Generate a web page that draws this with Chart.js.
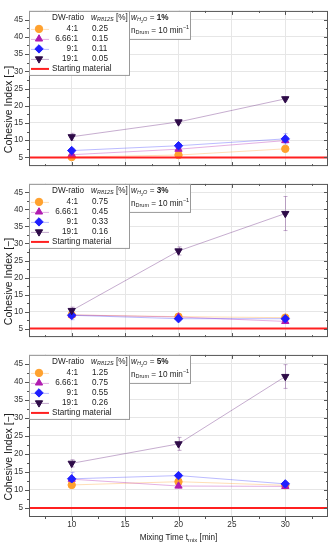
<!DOCTYPE html>
<html>
<head>
<meta charset="utf-8">
<script src="https://cdn.jsdelivr.net/npm/chart.js@4.4.1/dist/chart.umd.min.js"></script>
<style>
  html, body { margin: 0; padding: 0; background: #fff; }
  #wrap { position: relative; width: 334px; height: 550px; overflow: hidden; }
  .panel { position: absolute; left: 0; width: 334px; }
</style>
</head>
<body>
<div id="wrap">
  <div class="panel" style="top:0;height:177px"><canvas id="c1"></canvas></div>
  <div class="panel" style="top:173px;height:175px"><canvas id="c2"></canvas></div>
  <div class="panel" style="top:344px;height:206px"><canvas id="c3"></canvas></div>
</div>
<script>
const FONT = '"Liberation Sans", Arial, sans-serif';

// axes
const mixTimes = [10, 20, 30];
const xTicks = [10, 15, 20, 25, 30];
const yTicks = [5, 10, 15, 20, 25, 30, 35, 40, 45];
const xMin = 6, xMax = 34, yMin = 2.5, yMax = 47.5;

// legend content
const ratios = ['4:1', '6.66:1', '9:1', '19:1'];
const waterContent = ['1%', '3%', '5%'];
const additive1 = ['0.25', '0.15', '0.11', '0.05'];
const additive3 = ['0.75', '0.45', '0.33', '0.16'];
const additive5 = ['1.25', '0.75', '0.55', '0.26'];
const startLevel = 5;

// cohesive index, one row per DW-ratio (same order as ratios)
const ci1 = [[5.1, 5.7, 7.5], [5.8, 7.4, 9.9], [7.0, 8.4, 10.4], [11.0, 15.3, 22.0]];
const err1 = [[0.3, 0.4, 0.5], [0.4, 0.5, 0.6], [0.6, 0.7, 1.5], [1.0, 0.5, 0.6]];
const ci3 = [[9.0, 8.5, 8.2], [9.0, 8.4, 7.1], [8.9, 7.9, 7.9], [10.3, 27.8, 38.8]];
const err3 = [[0.5, 0.6, 1.0], [0.6, 0.6, 0.6], [1.3, 0.6, 0.6], [1.0, 1.2, 5.0]];
const ci5 = [[11.4, 12.3, 11.3], [13.0, 11.1, 11.0], [13.1, 14.0, 11.7], [17.4, 22.8, 41.5]];
const err5 = [[0.8, 0.8, 0.5], [0.6, 0.5, 0.5], [1.8, 0.6, 0.6], [1.0, 1.8, 3.3]];

const markerColors = ['#ffa12e', '#b01cb0', '#1f1fff', '#2e0b48'];
const lineColors = ['rgba(255,161,46,0.35)', 'rgba(176,28,176,0.35)', 'rgba(31,31,255,0.3)', 'rgba(120,60,140,0.42)'];
const shapes = ['circle', 'triangle', 'rectRot', 'triangle'];
const rotations = [0, 0, 0, 180];
const radii = [3.7, 4.2, 4.2, 4.2];

function font(size, weight, italic) {
  return (italic ? 'italic ' : '') + (weight || 'normal') + ' ' + size + 'px ' + FONT;
}

// draw text runs with sub/superscripts, baseline middle at y
function drawRich(ctx, x, y, parts) {
  ctx.textBaseline = 'middle';
  ctx.textAlign = 'left';
  let cx = x;
  parts.forEach(p => {
    ctx.font = font(p.size || 8.2, p.bold ? 'bold' : 'normal', p.italic);
    ctx.fillText(p.t, cx, y + (p.dy || 0));
    cx += ctx.measureText(p.t).width;
  });
  return cx - x;
}

function richWidth(ctx, parts) {
  let w = 0;
  parts.forEach(p => {
    ctx.font = font(p.size || 8.2, p.bold ? 'bold' : 'normal', p.italic);
    w += ctx.measureText(p.t).width;
  });
  return w;
}

function marker(ctx, i, x, y) {
  ctx.fillStyle = markerColors[i];
  ctx.strokeStyle = markerColors[i];
  ctx.lineWidth = 1;
  Chart.helpers.drawPoint(ctx, { pointStyle: shapes[i], rotation: rotations[i], radius: radii[i], borderWidth: 1 }, x, y);
}

const errorBars = {
  id: 'errorBars',
  beforeDatasetsDraw(chart) {
    const { ctx, scales: { x, y } } = chart;
    chart.data.datasets.forEach(ds => {
      if (!ds.errors) return;
      ctx.save();
      ctx.strokeStyle = ds.borderColor;
      ctx.lineWidth = 1;
      ds.data.forEach((p, j) => {
        const px = Math.round(x.getPixelForValue(p.x)) + 0.5;
        const top = y.getPixelForValue(p.y + ds.errors[j]);
        const bot = y.getPixelForValue(p.y - ds.errors[j]);
        ctx.beginPath();
        ctx.moveTo(px, top); ctx.lineTo(px, bot);
        ctx.moveTo(px - 2, top); ctx.lineTo(px + 2, top);
        ctx.moveTo(px - 2, bot); ctx.lineTo(px + 2, bot);
        ctx.stroke();
      });
      ctx.restore();
    });
  }
};

const panelDecor = {
  id: 'panelDecor',
  afterDraw(chart, args, opts) {
    const { ctx, chartArea: a, scales: { x, y } } = chart;
    ctx.save();

    // frame with ticks
    ctx.strokeStyle = '#555';
    ctx.lineWidth = 1;
    ctx.strokeRect(a.left + 0.5, a.top + 0.5, a.right - a.left - 1, a.bottom - a.top - 1);
    ctx.beginPath();
    yTicks.forEach(v => {
      [0, 2.5].forEach(off => {
        const val = v + off;
        if (val >= yMax) return;
        const py = Math.round(y.getPixelForValue(val)) + 0.5;
        const len = off ? 2 : 4;
        ctx.moveTo(a.left - len, py); ctx.lineTo(a.left, py);
        ctx.moveTo(a.right - len, py); ctx.lineTo(a.right, py);
      });
    });
    [7.5].concat(xTicks.flatMap(v => [v, v + 2.5])).forEach(val => {
      const px = Math.round(x.getPixelForValue(val)) + 0.5;
      const len = xTicks.includes(val) ? 4 : 2;
      ctx.moveTo(px, a.top); ctx.lineTo(px, a.top + len);
      if (opts.bottomAxis) {
        ctx.moveTo(px, a.bottom); ctx.lineTo(px, a.bottom + len);
      } else {
        ctx.moveTo(px, a.bottom - len); ctx.lineTo(px, a.bottom);
      }
    });
    ctx.stroke();

    ctx.fillStyle = '#222';
    // y title
    ctx.save();
    ctx.translate(9.5, (a.top + a.bottom) / 2 + 21);
    ctx.rotate(-Math.PI / 2);
    ctx.font = font(10.5);
    ctx.textAlign = 'center';
    ctx.textBaseline = 'middle';
    ctx.fillText('Cohesive Index [\u2212]', 0, 0);
    ctx.restore();

    // x title
    if (opts.bottomAxis) {
      const parts = [{ t: 'Mixing Time t' }, { t: 'mix', size: 6, dy: 2 }, { t: ' [min]' }];
      const w = richWidth(ctx, parts);
      drawRich(ctx, (a.left + a.right) / 2 - w / 2, a.bottom + 21, parts);
    }

    // legend box
    const L = a.left, T = a.top;
    ctx.fillStyle = '#fff';
    ctx.fillRect(L, T, 100, 64);
    ctx.fillRect(L + 100, T, 61, 28);
    ctx.strokeStyle = '#999';
    ctx.strokeRect(L + 0.5, T + 0.5, 100, 64);
    ctx.strokeRect(L + 100.5, T + 0.5, 61, 28);

    ctx.fillStyle = '#222';
    drawRich(ctx, L + 23, T + 7, [{ t: 'DW-ratio' }]);
    drawRich(ctx, L + 62, T + 7, [{ t: 'w', italic: true }, { t: 'R812S', size: 5.5, dy: 2, italic: true }, { t: ' [%]' }]);

    ratios.forEach((r, i) => {
      const ry = T + 18 + 10 * i;
      ctx.strokeStyle = lineColors[i];
      ctx.lineWidth = 1;
      ctx.beginPath();
      ctx.moveTo(L + 2, ry + 0.5); ctx.lineTo(L + 20, ry + 0.5);
      ctx.stroke();
      marker(ctx, i, L + 10, ry);
      ctx.fillStyle = '#222';
      ctx.font = font(8.2);
      ctx.textAlign = 'right';
      ctx.textBaseline = 'middle';
      ctx.fillText(r, L + 49, ry);
      ctx.textAlign = 'left';
      ctx.fillText(opts.additive[i], L + 63, ry);
    });
    const sy = T + 58;
    ctx.strokeStyle = '#ff2020';
    ctx.lineWidth = 2;
    ctx.beginPath();
    ctx.moveTo(L + 2, sy); ctx.lineTo(L + 20, sy);
    ctx.stroke();
    ctx.fillStyle = '#222';
    drawRich(ctx, L + 23, sy, [{ t: 'Starting material' }]);

    drawRich(ctx, L + 102, T + 7, [
      { t: 'w', italic: true }, { t: 'H', size: 5.5, dy: 2, italic: true }, { t: '2', size: 4, dy: 3.5 },
      { t: 'O', size: 5.5, dy: 2, italic: true }, { t: ' = ' }, { t: opts.water, bold: true }
    ]);
    drawRich(ctx, L + 102, T + 20, [
      { t: 'n' }, { t: 'Drum', size: 5.5, dy: 2 }, { t: ' = 10 min' }, { t: '\u22121', size: 5.5, dy: -3 }
    ]);
    ctx.restore();
  }
};

function makePanel(id, values, errors, additive, water, bottomAxis, padTop, padBottom) {
  const datasets = ratios.map((r, i) => ({
    label: r,
    data: mixTimes.map((t, j) => ({ x: t, y: values[i][j] })),
    errors: errors[i],
    borderColor: lineColors[i],
    borderWidth: 1,
    backgroundColor: markerColors[i],
    pointBackgroundColor: markerColors[i],
    pointBorderColor: markerColors[i],
    pointStyle: shapes[i],
    pointRotation: rotations[i],
    pointRadius: radii[i],
    pointBorderWidth: 1,
    order: 4 - i
  }));
  datasets.push({
    label: 'Starting material',
    data: [{ x: xMin, y: startLevel }, { x: xMax, y: startLevel }],
    borderColor: '#ff2020',
    borderWidth: 2,
    pointRadius: 0,
    order: 0
  });

  return new Chart(document.getElementById(id), {
    type: 'line',
    data: { datasets },
    plugins: [errorBars, panelDecor],
    options: {
      responsive: true,
      maintainAspectRatio: false,
      animation: false,
      layout: { padding: { top: padTop, bottom: padBottom, left: 0, right: 6 } },
      plugins: {
        legend: { display: false },
        tooltip: { enabled: false },
        panelDecor: { additive, water, bottomAxis }
      },
      scales: {
        x: {
          type: 'linear', min: xMin, max: xMax,
          afterBuildTicks: s => { s.ticks = xTicks.map(v => ({ value: v })); },
          afterFit: s => { s.height = bottomAxis ? 33 : 0; },
          grid: { color: '#e6e6e6', drawTicks: false },
          border: { display: false },
          ticks: { display: bottomAxis, padding: 3, color: '#333', maxRotation: 0, font: { family: FONT, size: 8.2 } }
        },
        y: {
          type: 'linear', min: yMin, max: yMax,
          afterBuildTicks: s => { s.ticks = yTicks.map(v => ({ value: v })); },
          afterFit: s => { s.width = 29; },
          grid: { color: '#e6e6e6', drawTicks: false },
          border: { display: false },
          ticks: { padding: 6, color: '#333', font: { family: FONT, size: 8.2 } }
        }
      }
    }
  });
}

makePanel('c1', ci1, err1, additive1, waterContent[0], false, 4, 2);
makePanel('c2', ci3, err3, additive3, waterContent[1], false, 2, 2);
makePanel('c3', ci5, err5, additive5, waterContent[2], true, 2, 0);
</script>
</body>
</html>
